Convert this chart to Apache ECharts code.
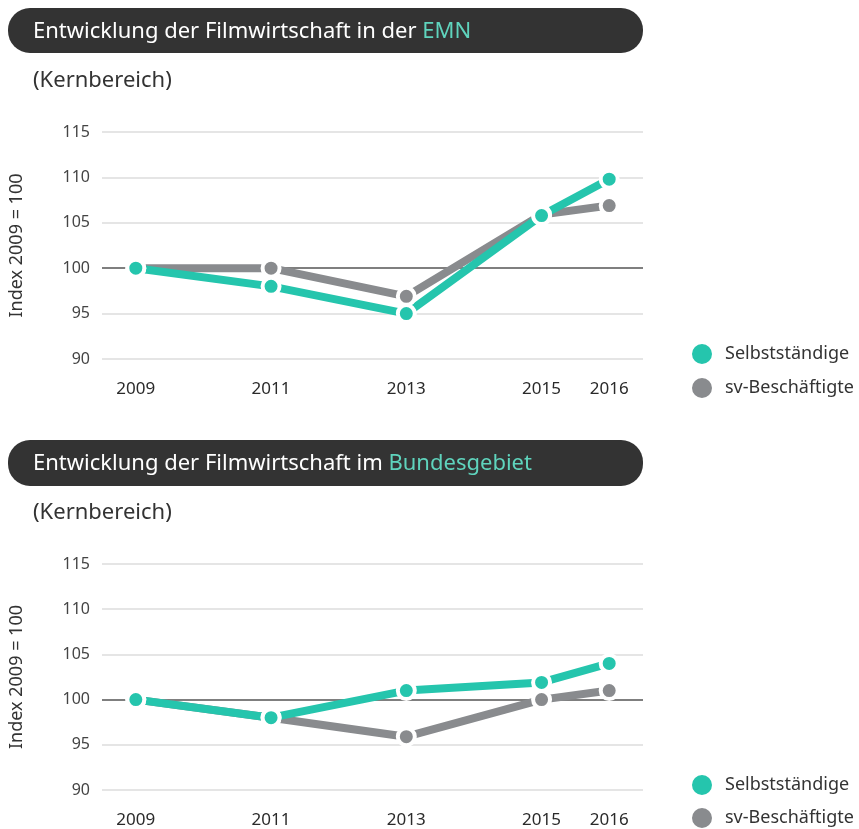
<!DOCTYPE html>
<html>
<head>
<meta charset="utf-8">
<script src="https://cdn.jsdelivr.net/npm/echarts@6/dist/echarts.min.js"></script>
<style>
  html, body { margin: 0; padding: 0; background: #fff; }
  #chart { width: 859px; height: 829px; }
</style>
</head>
<body>
<div id="chart"></div>
<script>
// Years on the horizontal axis and the labelled ticks
const years = [2009, 2011, 2013, 2015, 2016];
const xTicks = [2009, 2011, 2013, 2015, 2016];
const yTicks = [90, 95, 100, 105, 110, 115];

// EMN (Kernbereich), Index 2009 = 100
const emnSelbst = [100, 98, 95, 105.8, 109.8];
const emnSv = [100, 100, 96.9, 105.9, 106.9];

// Bundesgebiet (Kernbereich), Index 2009 = 100
const bundSelbst = [100, 98, 101, 101.9, 104];
const bundSv = [100, 98, 95.9, 100, 101];

const seriesNames = ['Selbstständige', 'sv-Beschäftigte'];
const titleEmn = ['Entwicklung der Filmwirtschaft in der ', 'EMN'];
const titleBund = ['Entwicklung der Filmwirtschaft im ', 'Bundesgebiet'];
const subTitle = '(Kernbereich)';
const yName = 'Index 2009 = 100';

const TEAL = '#25c5ad';
const GREY = '#898b8e';
const FONT = 'Noto Sans';

const chart = echarts.init(document.getElementById('chart'), null, { renderer: 'canvas' });

function pairs(vals) { return years.map((y, i) => [y, vals[i]]); }

function xAxisFor(gi) {
  return {
    gridIndex: gi, type: 'value', min: 2008.5, max: 2016.5,
    axisLine: { show: false }, axisTick: { show: false }, splitLine: { show: false },
    axisLabel: {
      customValues: xTicks, margin: 22,
      color: '#2a2a2a', fontFamily: FONT, fontSize: 17,
      formatter: v => String(v)
    }
  };
}

function yAxisFor(gi) {
  return {
    gridIndex: gi, type: 'value', min: yTicks[0], max: yTicks[yTicks.length - 1], interval: 5,
    axisLine: { show: false }, axisTick: { show: false },
    axisLabel: { color: '#444', fontFamily: FONT, fontSize: 16, margin: 12, padding: [0, 0, 8, 0] },
    splitLine: {
      lineStyle: {
        width: 1.5,
        color: yTicks.map(t => t === 100 ? '#555555' : '#dddddd')
      }
    },
    name: yName, nameLocation: 'middle', nameRotate: 90, nameGap: 76,
    nameTextStyle: { color: '#333', fontFamily: FONT, fontSize: 18 }
  };
}

function lineSeries(name, color, vals, gi) {
  return {
    type: 'line', name: name, xAxisIndex: gi, yAxisIndex: gi,
    data: pairs(vals),
    symbol: 'circle', symbolSize: 17,
    lineStyle: { color: color, width: 8 },
    itemStyle: { color: color, borderColor: '#fff', borderWidth: 4 },
    emphasis: { disabled: true },
    animation: false
  };
}

function titleText(parts, top) {
  return {
    left: 33, top: top, padding: 0,
    text: '{a|' + parts[0] + '}{b|' + parts[1] + '}',
    textStyle: {
      rich: {
        a: { color: '#ffffff', fontFamily: FONT, fontSize: 22, fontWeight: 'normal' },
        b: { color: '#5fd4bd', fontFamily: FONT, fontSize: 22, fontWeight: 'normal' }
      }
    }
  };
}

function subText(top) {
  return {
    left: 33, top: top, text: subTitle, padding: 0,
    textStyle: { color: '#333', fontFamily: FONT, fontSize: 22, fontWeight: 'normal' }
  };
}

// one legend box per entry, so each entry sits at its own fixed height
function legendItem(name, top) {
  return {
    orient: 'vertical', left: 690, top: top, padding: 0,
    icon: 'circle', itemWidth: 22, itemHeight: 22,
    data: [name],
    textStyle: { color: '#333', fontFamily: FONT, fontSize: 18, padding: [0, 0, 0, 7] },
    selectedMode: false
  };
}

chart.setOption({
  animation: false,
  color: [TEAL, GREY],
  graphic: [
    { type: 'rect', shape: { x: 8, y: 8, width: 635, height: 45, r: 22 }, style: { fill: '#333333' }, z: -1 },
    { type: 'rect', shape: { x: 8, y: 440, width: 635, height: 46, r: 22 }, style: { fill: '#333333' }, z: -1 }
  ],
  title: [
    titleText(titleEmn, 21),
    subText(70),
    titleText(titleBund, 453),
    subText(502)
  ],
  legend: [
    legendItem(seriesNames[0], 342),
    legendItem(seriesNames[1], 376),
    legendItem(seriesNames[0], 773),
    legendItem(seriesNames[1], 806)
  ],
  grid: [
    { left: 100, width: 543, top: 132, height: 227 },
    { left: 100, width: 543, top: 564, height: 226 }
  ],
  xAxis: [xAxisFor(0), xAxisFor(1)],
  yAxis: [yAxisFor(0), yAxisFor(1)],
  series: [
    lineSeries(seriesNames[1], GREY, emnSv, 0),
    lineSeries(seriesNames[0], TEAL, emnSelbst, 0),
    lineSeries(seriesNames[1], GREY, bundSv, 1),
    lineSeries(seriesNames[0], TEAL, bundSelbst, 1)
  ]
});
</script>
</body>
</html>
